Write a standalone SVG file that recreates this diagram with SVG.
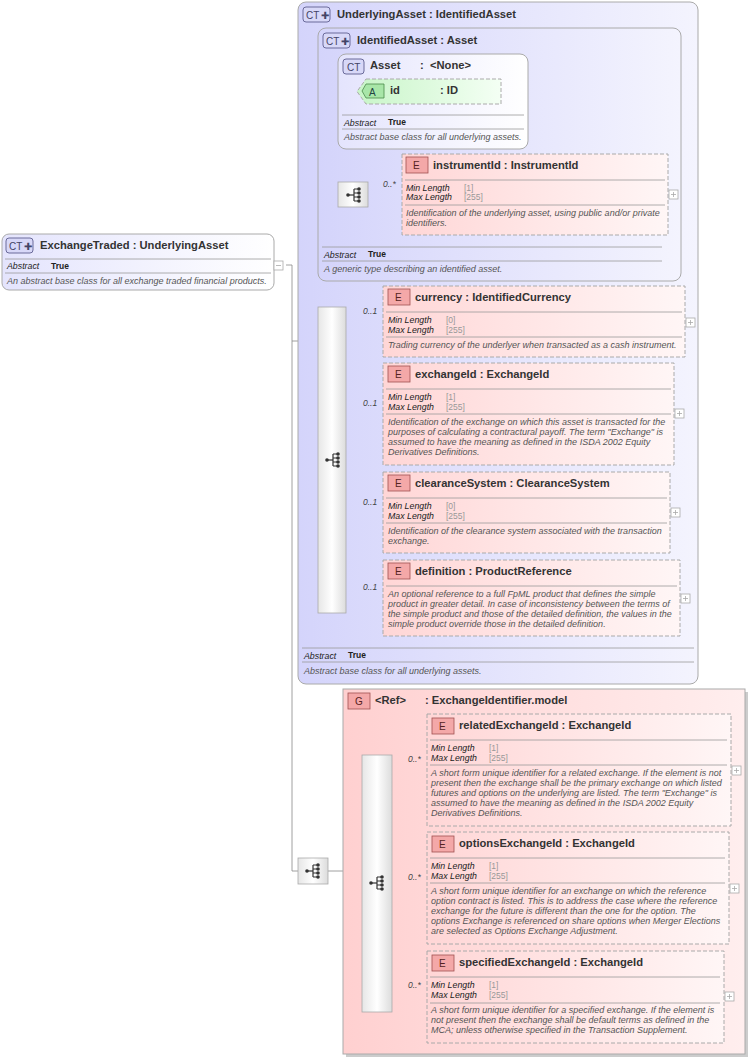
<svg xmlns="http://www.w3.org/2000/svg" width="750" height="1060" viewBox="0 0 750 1060">
<defs>
<linearGradient id="gB" x1="0" x2="1" y1="0" y2="0"><stop offset="0" stop-color="#d4d4fb"/><stop offset="1" stop-color="#f4f4fe"/></linearGradient>
<linearGradient id="gB2" x1="0" x2="1" y1="0" y2="0"><stop offset="0" stop-color="#e4e4fd"/><stop offset="1" stop-color="#ffffff"/></linearGradient>
<linearGradient id="gE" x1="0" x2="1" y1="0" y2="0"><stop offset="0" stop-color="#ffd6d6"/><stop offset="1" stop-color="#fff6f6"/></linearGradient>
<linearGradient id="gG" x1="0" x2="1" y1="0" y2="0"><stop offset="0" stop-color="#ffd0d0"/><stop offset="1" stop-color="#ffeeee"/></linearGradient>
<linearGradient id="gA" x1="0" x2="1" y1="0" y2="0"><stop offset="0" stop-color="#c8f5c8"/><stop offset="1" stop-color="#f4fff4"/></linearGradient>
<linearGradient id="gS" x1="0" x2="1" y1="0" y2="0"><stop offset="0" stop-color="#e6e6e6"/><stop offset="0.5" stop-color="#ffffff"/><stop offset="1" stop-color="#dcdcdc"/></linearGradient>
<g id="seqIcon"><line x1="-6" y1="0" x2="0" y2="0" stroke="#333" stroke-width="1.2"/><path d="M0,-6 V6 M0,-6 H5 M0,-2 H5 M0,2 H5 M0,6 H5" stroke="#333" stroke-width="1.2" fill="none"/><circle cx="-6" cy="0" r="1.8" fill="#333"/><circle cx="5" cy="-6" r="1.8" fill="#333"/><circle cx="5" cy="-2" r="1.8" fill="#333"/><circle cx="5" cy="2" r="1.8" fill="#333"/><circle cx="5" cy="6" r="1.8" fill="#333"/></g>
<g id="plus"><rect x="0" y="0" width="9" height="9" fill="#fff" stroke="#aaa" stroke-width="0.8"/><path d="M2,4.5 H7 M4.5,2 V7" stroke="#aaa" stroke-width="0.8"/></g>
</defs>
<style>
text{font-family:"Liberation Sans",Arial,sans-serif;fill:#333;white-space:pre}
.h{font-size:11.2px;font-weight:bold}
.k{font-size:8.8px;font-style:italic;fill:#222}
.v{font-size:8.5px;fill:#999}
.vb{font-size:8.5px;font-weight:bold;fill:#222}
.d{font-size:9px;font-style:italic;fill:#555}
.m{font-size:8.5px;font-style:italic;fill:#444}
.ct{fill:#d8d8f8;stroke:#6a6a9a;stroke-width:1}
.eb{fill:#f4a8a8;stroke:#a05050;stroke-width:0.8}
.el{fill:url(#gE);stroke:#aaa;stroke-dasharray:4,2;stroke-width:1}
.sep{stroke:#999;stroke-width:0.8}
.cn{stroke:#888;stroke-width:0.8;fill:none}
.seq{fill:url(#gS);stroke:#aaa;stroke-width:0.8}
</style>

<g id="connectors">
<path class="cn" d="M286,265 H292 V871 H298 M292,341 H298 M328,871 H343 M308,155 V460 H318 M308,155 H318 M327,101 V195 H338 M327,101 H338 M338,91 H357 M368,195 H402 M346,321 H383 M346,414 H383 M346,513 H383 M346,598 H383 M343,883 H362 M392,770 H427 M392,888 H427 M392,996 H427"/>
</g>

<g id="ExchangeTraded">
<rect x="2" y="234" width="272" height="56" rx="7" fill="url(#gB2)" stroke="#aaa"/>
<rect x="6" y="238" width="27" height="15" rx="3" class="ct"/><text x="9" y="250" style="font-size:10px;fill:#446">CT</text><text x="24" y="250" style="font-size:10px;fill:#446">✚</text>
<text x="40" y="249" class="h">ExchangeTraded : UnderlyingAsset</text>
<line x1="5" y1="259" x2="271" y2="259" class="sep"/><text x="7" y="269" class="k">Abstract</text><text x="51" y="269" class="vb">True</text>
<line x1="5" y1="273" x2="271" y2="273" class="sep"/><text x="7" y="284" class="d">An abstract base class for all exchange traded financial products.</text>
<rect x="274" y="261" width="9" height="9" fill="#fff" stroke="#aaa" stroke-width="0.8"/><path d="M276,265.5 H281" stroke="#aaa" stroke-width="0.8"/>
</g>

<g id="UnderlyingAsset">
<rect x="298" y="2" width="400" height="682" rx="8" fill="url(#gB)" stroke="#aaa"/>
<rect x="303" y="7" width="27" height="15" rx="3" class="ct"/><text x="306" y="19" style="font-size:10px;fill:#446">CT</text><text x="321" y="19" style="font-size:10px;fill:#446">✚</text>
<text x="337" y="18" class="h">UnderlyingAsset : IdentifiedAsset</text>
<line x1="302" y1="648" x2="694" y2="648" class="sep"/><text x="304" y="659" class="k">Abstract</text><text x="348" y="658" class="vb">True</text>
<line x1="302" y1="662" x2="694" y2="662" class="sep"/><text x="304" y="674" class="d">Abstract base class for all underlying assets.</text>
</g>

<g id="IdentifiedAsset">
<rect x="318" y="28" width="363" height="253" rx="8" fill="url(#gB)" stroke="#aaa"/>
<rect x="323" y="33" width="27" height="15" rx="3" class="ct"/><text x="326" y="45" style="font-size:10px;fill:#446">CT</text><text x="341" y="45" style="font-size:10px;fill:#446">✚</text>
<text x="357" y="44" class="h">IdentifiedAsset : Asset</text>
<line x1="322" y1="247" x2="662" y2="247" class="sep"/><text x="324" y="258" class="k">Abstract</text><text x="368" y="257" class="vb">True</text>
<line x1="322" y1="261" x2="662" y2="261" class="sep"/><text x="324" y="272" class="d">A generic type describing an identified asset.</text>
</g>

<g id="Asset">
<rect x="338" y="54" width="190" height="95" rx="8" fill="url(#gB2)" stroke="#aaa"/>
<rect x="343" y="59" width="21" height="15" rx="3" class="ct"/><text x="347" y="71" style="font-size:10px;fill:#446">CT</text>
<text x="370" y="69" class="h">Asset</text><text x="420" y="69" class="h">:  &lt;None&gt;</text>
<line x1="342" y1="115" x2="524" y2="115" class="sep"/><text x="344" y="126" class="k">Abstract</text><text x="388" y="125" class="vb">True</text>
<line x1="342" y1="129" x2="524" y2="129" class="sep"/><text x="344" y="140" class="d">Abstract base class for all underlying assets.</text>
</g>

<g id="attr-id">
<path d="M366,79 H501 V104 H366 L357,91.5 Z" fill="url(#gA)" stroke="#aaa" stroke-dasharray="4,2"/>
<path d="M366,84 H384 V98 H366 L362,91 Z" fill="#a8e6a8" stroke="#4a8a4a" stroke-width="0.8"/><text x="369" y="96" style="font-size:10px;fill:#244">A</text>
<text x="390" y="94" class="h">id</text><text x="440" y="94" class="h">: ID</text>
</g>

<g id="seq1"><rect x="338" y="182" width="30" height="25" class="seq"/><use href="#seqIcon" x="354" y="195"/><text x="383" y="187" class="m">0..*</text></g>

<g id="instrumentId">
<rect x="402" y="154" width="266" height="81" class="el"/>
<rect x="406" y="157" width="22" height="16" class="eb"/><text x="413" y="169" style="font-size:10px;fill:#522">E</text>
<text x="433" y="169" class="h">instrumentId : InstrumentId</text>
<line x1="405" y1="180" x2="665" y2="180" class="sep"/>
<text x="406" y="191" class="k">Min Length</text><text x="464" y="191" class="v">[1]</text>
<text x="406" y="200" class="k">Max Length</text><text x="464" y="200" class="v">[255]</text>
<line x1="405" y1="205" x2="665" y2="205" class="sep"/>
<text x="406" y="216" class="d">Identification of the underlying asset, using public and/or private</text><text x="406" y="226" class="d">identifiers.</text>
<use href="#plus" x="669" y="190"/>
</g>

<g id="seq2"><rect x="318" y="307" width="28" height="306" class="seq"/><use href="#seqIcon" x="333" y="460"/>
<text x="363" y="314" class="m">0..1</text><text x="363" y="406" class="m">0..1</text><text x="363" y="505" class="m">0..1</text><text x="363" y="590" class="m">0..1</text></g>

<g id="currency">
<rect x="383" y="286" width="302" height="71" class="el"/>
<rect x="388" y="289" width="22" height="16" class="eb"/><text x="395" y="301" style="font-size:10px;fill:#522">E</text>
<text x="415" y="301" class="h">currency : IdentifiedCurrency</text>
<line x1="386" y1="312" x2="682" y2="312" class="sep"/>
<text x="388" y="323" class="k">Min Length</text><text x="446" y="323" class="v">[0]</text>
<text x="388" y="333" class="k">Max Length</text><text x="446" y="333" class="v">[255]</text>
<line x1="386" y1="337" x2="682" y2="337" class="sep"/>
<text x="388" y="348" class="d">Trading currency of the underlyer when transacted as a cash instrument.</text>
<use href="#plus" x="686" y="318"/>
</g>

<g id="exchangeId">
<rect x="383" y="363" width="291" height="102" class="el"/>
<rect x="388" y="366" width="22" height="16" class="eb"/><text x="395" y="378" style="font-size:10px;fill:#522">E</text>
<text x="415" y="378" class="h">exchangeId : ExchangeId</text>
<line x1="386" y1="389" x2="671" y2="389" class="sep"/>
<text x="388" y="400" class="k">Min Length</text><text x="446" y="400" class="v">[1]</text>
<text x="388" y="410" class="k">Max Length</text><text x="446" y="410" class="v">[255]</text>
<line x1="386" y1="414" x2="671" y2="414" class="sep"/>
<text x="388" y="425" class="d">Identification of the exchange on which this asset is transacted for the</text>
<text x="388" y="435" class="d">purposes of calculating a contractural payoff. The term "Exchange" is</text>
<text x="388" y="445" class="d">assumed to have the meaning as defined in the ISDA 2002 Equity</text>
<text x="388" y="455" class="d">Derivatives Definitions.</text>
<use href="#plus" x="675" y="409"/>
</g>

<g id="clearanceSystem">
<rect x="383" y="472" width="287" height="81" class="el"/>
<rect x="388" y="475" width="22" height="16" class="eb"/><text x="395" y="487" style="font-size:10px;fill:#522">E</text>
<text x="415" y="487" class="h">clearanceSystem : ClearanceSystem</text>
<line x1="386" y1="498" x2="667" y2="498" class="sep"/>
<text x="388" y="509" class="k">Min Length</text><text x="446" y="509" class="v">[0]</text>
<text x="388" y="519" class="k">Max Length</text><text x="446" y="519" class="v">[255]</text>
<line x1="386" y1="523" x2="667" y2="523" class="sep"/>
<text x="388" y="534" class="d">Identification of the clearance system associated with the transaction</text>
<text x="388" y="544" class="d">exchange.</text>
<use href="#plus" x="671" y="508"/>
</g>

<g id="definition">
<rect x="383" y="560" width="297" height="76" class="el"/>
<rect x="388" y="563" width="22" height="16" class="eb"/><text x="395" y="575" style="font-size:10px;fill:#522">E</text>
<text x="415" y="575" class="h">definition : ProductReference</text>
<line x1="386" y1="586" x2="677" y2="586" class="sep"/>
<text x="388" y="597" class="d">An optional reference to a full FpML product that defines the simple</text>
<text x="388" y="607" class="d">product in greater detail. In case of inconsistency between the terms of</text>
<text x="388" y="617" class="d">the simple product and those of the detailed definition, the values in the</text>
<text x="388" y="627" class="d">simple product override those in the detailed definition.</text>
<use href="#plus" x="681" y="594"/>
</g>

<g id="seq3"><rect x="298" y="858" width="30" height="26" class="seq"/><use href="#seqIcon" x="313" y="871"/></g>

<g id="ExchangeIdentifierModel">
<rect x="346" y="692" width="402" height="365" fill="#ccc"/>
<rect x="343" y="689" width="402" height="365" fill="url(#gG)" stroke="#aaa"/>
<rect x="348" y="693" width="22" height="16" class="eb"/><text x="355" y="705" style="font-size:10px;fill:#522">G</text>
<text x="375" y="704" class="h">&lt;Ref&gt;</text><text x="425" y="704" class="h">: ExchangeIdentifier.model</text>
</g>

<g id="seq4"><rect x="362" y="755" width="30" height="257" class="seq"/><use href="#seqIcon" x="377" y="883"/>
<text x="408" y="762" class="m">0..*</text><text x="408" y="880" class="m">0..*</text><text x="408" y="988" class="m">0..*</text></g>

<g id="relatedExchangeId">
<rect x="427" y="714" width="304" height="112" class="el"/>
<rect x="432" y="718" width="22" height="16" class="eb"/><text x="439" y="730" style="font-size:10px;fill:#522">E</text>
<text x="459" y="729" class="h">relatedExchangeId : ExchangeId</text>
<line x1="430" y1="740" x2="727" y2="740" class="sep"/>
<text x="431" y="751" class="k">Min Length</text><text x="489" y="751" class="v">[1]</text>
<text x="431" y="761" class="k">Max Length</text><text x="489" y="761" class="v">[255]</text>
<line x1="430" y1="765" x2="727" y2="765" class="sep"/>
<text x="431" y="776" class="d">A short form unique identifier for a related exchange. If the element is not</text>
<text x="431" y="786" class="d">present then the exchange shall be the primary exchange on which listed</text>
<text x="431" y="796" class="d">futures and options on the underlying are listed. The term "Exchange" is</text>
<text x="431" y="806" class="d">assumed to have the meaning as defined in the ISDA 2002 Equity</text>
<text x="431" y="816" class="d">Derivatives Definitions.</text>
<use href="#plus" x="732" y="766"/>
</g>

<g id="optionsExchangeId">
<rect x="427" y="832" width="302" height="112" class="el"/>
<rect x="432" y="836" width="22" height="16" class="eb"/><text x="439" y="848" style="font-size:10px;fill:#522">E</text>
<text x="459" y="847" class="h">optionsExchangeId : ExchangeId</text>
<line x1="430" y1="858" x2="725" y2="858" class="sep"/>
<text x="431" y="869" class="k">Min Length</text><text x="489" y="869" class="v">[1]</text>
<text x="431" y="879" class="k">Max Length</text><text x="489" y="879" class="v">[255]</text>
<line x1="430" y1="883" x2="725" y2="883" class="sep"/>
<text x="431" y="894" class="d">A short form unique identifier for an exchange on which the reference</text>
<text x="431" y="904" class="d">option contract is listed. This is to address the case where the reference</text>
<text x="431" y="914" class="d">exchange for the future is different than the one for the option. The</text>
<text x="431" y="924" class="d">options Exchange is referenced on share options when Merger Elections</text>
<text x="431" y="934" class="d">are selected as Options Exchange Adjustment.</text>
<use href="#plus" x="730" y="884"/>
</g>

<g id="specifiedExchangeId">
<rect x="427" y="951" width="297" height="92" class="el"/>
<rect x="432" y="955" width="22" height="16" class="eb"/><text x="439" y="967" style="font-size:10px;fill:#522">E</text>
<text x="459" y="966" class="h">specifiedExchangeId : ExchangeId</text>
<line x1="430" y1="977" x2="720" y2="977" class="sep"/>
<text x="431" y="988" class="k">Min Length</text><text x="489" y="988" class="v">[1]</text>
<text x="431" y="998" class="k">Max Length</text><text x="489" y="998" class="v">[255]</text>
<line x1="430" y1="1003" x2="720" y2="1003" class="sep"/>
<text x="431" y="1013" class="d">A short form unique identifier for a specified exchange. If the element is</text>
<text x="431" y="1023" class="d">not present then the exchange shall be default terms as defined in the</text>
<text x="431" y="1033" class="d">MCA; unless otherwise specified in the Transaction Supplement.</text>
<use href="#plus" x="725" y="992"/>
</g>
</svg>
